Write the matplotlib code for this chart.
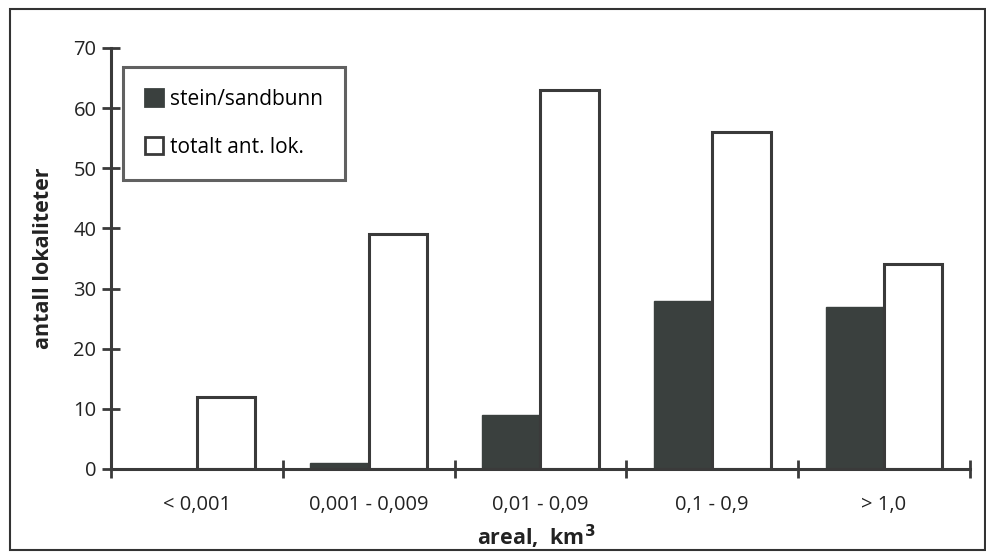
import numpy as np
import matplotlib
matplotlib.use('Agg')
import matplotlib.pyplot as plt
from matplotlib.patches import Rectangle

# -- Data --
categories = ['< 0,001', '0,001 - 0,009', '0,01 - 0,09', '0,1 - 0,9', '> 1,0']
stein = [0, 1, 9, 28, 27]
totalt = [12, 39, 63, 56, 34]

dark = '#3a403e'
line = '#3a3a3a'
plt.rcParams['font.family'] = ['Open Sans', 'DejaVu Sans']

fig = plt.figure(figsize=(9.86, 5.55), dpi=100)
ax = fig.add_axes([0.1126, 0.155, 0.871, 0.7586])

x = np.arange(len(categories))
w = 0.34
ax.bar(x - w / 2, stein, w, color=dark, edgecolor=dark, linewidth=1, label='stein/sandbunn')
ax.bar(x + w / 2, totalt, w, color='white', edgecolor=line, linewidth=2.2, label='totalt ant. lok.')

ax.set_xlim(-0.5, len(categories) - 0.5)
ax.set_ylim(0, 70)
ax.set_yticks(range(0, 71, 10))
# major ticks at the category borders, labels on minor ticks at the centres
ax.set_xticks(np.arange(-0.5, len(categories), 1.0))
ax.set_xticklabels([])
ax.set_xticks(x, minor=True)
ax.set_xticklabels(categories, minor=True, fontsize=14.5, color='#222222')
ax.tick_params(axis='x', which='minor', length=0, pad=19)
ax.tick_params(axis='x', which='major', direction='inout', length=13, width=2, color=line)
ax.tick_params(axis='y', direction='inout', length=13, width=2, color=line, labelsize=14.5,
               labelcolor='#222222', pad=4)

for s in ['top', 'right']:
    ax.spines[s].set_visible(False)
for s in ['left', 'bottom']:
    ax.spines[s].set_linewidth(2.2)
    ax.spines[s].set_color(line)

ax.set_ylabel('antall lokaliteter', fontsize=15.5, fontweight='bold', color='#222222', labelpad=14)
fig.text(0.544, 0.032, 'areal,  km$^\\mathbf{3}$', ha='center', va='center', fontsize=15.5,
         fontweight='bold', color='#222222')

leg = ax.legend(loc='upper left', bbox_to_anchor=(0.014, 0.955), frameon=True, fancybox=False,
                fontsize=15, handlelength=0.85, handleheight=0.85, handletextpad=0.35,
                borderpad=1.05, labelspacing=1.3, borderaxespad=0)
leg.get_frame().set_edgecolor(line)
leg.get_frame().set_linewidth(2.2)
for h in leg.legend_handles:
    h.set_linewidth(2)

# outer frame round the whole figure
fig.patches.append(Rectangle((10 / 986, 5 / 555), 975 / 986, 541 / 555, transform=fig.transFigure,
                             fill=False, edgecolor='#333333', linewidth=1.5))

fig.savefig('out.png', dpi=100)
